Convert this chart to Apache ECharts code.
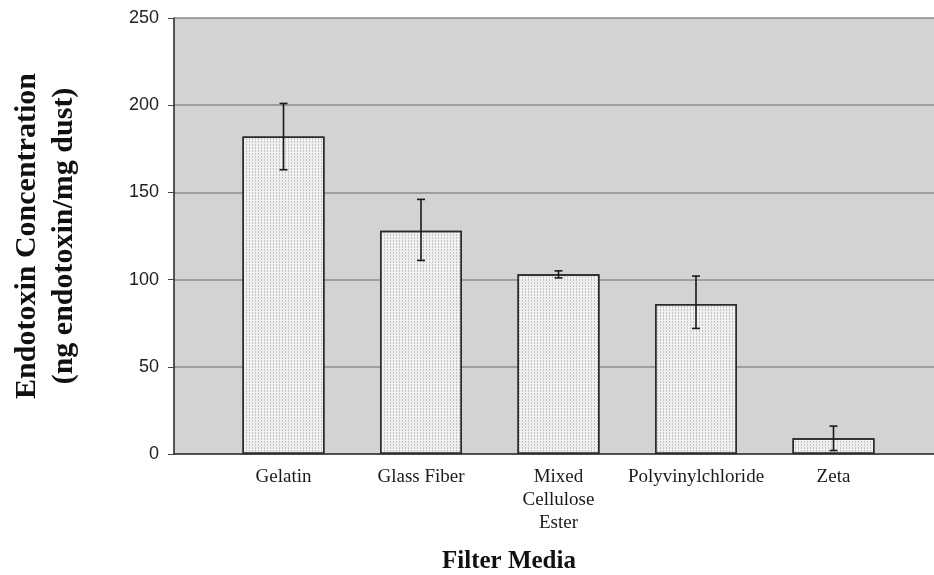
<!DOCTYPE html>
<html>
<head>
<meta charset="utf-8">
<script src="https://cdn.jsdelivr.net/npm/echarts@6/dist/echarts.min.js"></script>
<style>html,body{margin:0;padding:0;background:#fff;}#c{width:934px;height:575px;}</style>
</head>
<body>
<div id="c"></div>
<script>
var categories = ['Gelatin', 'Glass Fiber', 'Mixed\nCellulose\nEster', 'Polyvinylchloride', 'Zeta'];
var values = [182, 128, 103, 86, 9];
var errLow = [163, 111, 101, 72, 2];
var errHigh = [201, 146, 105, 102, 16];
var yTicks = { min: 0, max: 250, interval: 50 };

var chart = echarts.init(document.getElementById('c'), null, { renderer: 'canvas' });
var option = {
  animation: false,
  backgroundColor: '#ffffff',
  title: {
    text: 'Filter Media', left: 442, top: 549, padding: 0,
    textStyle: { fontFamily: 'Liberation Serif', fontWeight: 'bold', fontSize: 25, color: '#111' }
  },
  grid: [
    { left: 174, top: 18, right: 0, bottom: 121, show: true, backgroundColor: '#d3d3d3', borderWidth: 0 },
    { left: 214.75, top: 18, width: 687.5, bottom: 121 }
  ],
  xAxis: [
    { gridIndex: 0, type: 'category', data: categories, show: true,
      axisLine: { show: true, lineStyle: { color: '#333', width: 1.5 } },
      axisTick: { show: false }, axisLabel: { show: false }, splitLine: { show: false } },
    { gridIndex: 1, type: 'category', data: categories,
      axisLine: { show: false }, axisTick: { show: false },
      axisLabel: { margin: 12, fontFamily: 'Liberation Serif', fontSize: 19, lineHeight: 23, color: '#1a1a1a', interval: 0 } }
  ],
  yAxis: [
    { gridIndex: 0, type: 'value', min: yTicks.min, max: yTicks.max, interval: yTicks.interval,
      name: 'Endotoxin Concentration\n(ng endotoxin/mg dust)', nameLocation: 'middle', nameRotate: 90, nameGap: 91,
      nameTextStyle: { fontFamily: 'Liberation Serif', fontWeight: 'bold', fontSize: 30, lineHeight: 37, color: '#111' },
      axisLine: { show: true, lineStyle: { color: '#222', width: 1.5 } },
      axisTick: { show: true, inside: false, length: 6, lineStyle: { color: '#444' } },
      axisLabel: { margin: 15, fontFamily: 'Liberation Sans', fontSize: 18, color: '#222' },
      splitLine: { show: true, lineStyle: { color: '#8c8c8c', width: 1.5 } } },
    { gridIndex: 1, type: 'value', min: yTicks.min, max: yTicks.max, interval: yTicks.interval, show: false,
      splitLine: { show: false } }
  ],
  series: [
    { type: 'bar', xAxisIndex: 1, yAxisIndex: 1, data: values, barWidth: 82,
      itemStyle: { color: '#f0f0f0', borderColor: '#2a2a2a', borderWidth: 1.5,
        decal: { symbol: 'rect', symbolSize: 1, color: 'rgba(140,140,140,0.45)', dashArrayX: [1, 2], dashArrayY: [2, 1], rotation: 0 } } },
    { type: 'custom', xAxisIndex: 1, yAxisIndex: 1, z: 10,
      data: categories.map(function (c, i) { return [i, errLow[i], errHigh[i]]; }),
      renderItem: function (params, api) {
        var lo = api.coord([api.value(0), api.value(1)]);
        var hi = api.coord([api.value(0), api.value(2)]);
        var x = lo[0], hw = 4;
        var st = { stroke: '#1a1a1a', lineWidth: 1.6 };
        return { type: 'group', children: [
          { type: 'line', shape: { x1: x, y1: lo[1], x2: x, y2: hi[1] }, style: st },
          { type: 'line', shape: { x1: x - hw, y1: lo[1], x2: x + hw, y2: lo[1] }, style: st },
          { type: 'line', shape: { x1: x - hw, y1: hi[1], x2: x + hw, y2: hi[1] }, style: st }
        ] };
      } }
  ]
};
chart.setOption(option);
</script>
</body>
</html>
